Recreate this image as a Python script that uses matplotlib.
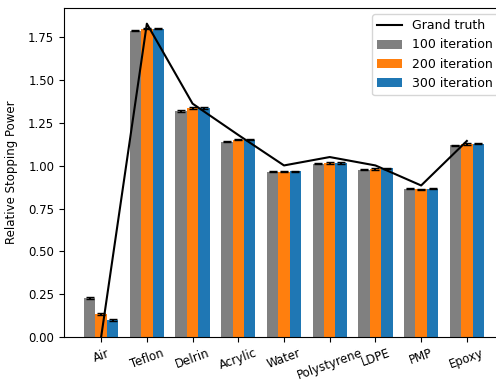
import numpy as np
import matplotlib
matplotlib.use("Agg")
import matplotlib.pyplot as plt

materials = ["Air", "Teflon", "Delrin", "Acrylic", "Water", "Polystyrene", "LDPE", "PMP", "Epoxy"]
grand_truth = [0.0, 1.83, 1.363, 1.18, 1.002, 1.051, 1.002, 0.885, 1.145]
iter_100 = [0.228, 1.790, 1.320, 1.141, 0.965, 1.013, 0.977, 0.866, 1.119]
iter_200 = [0.135, 1.800, 1.337, 1.153, 0.965, 1.016, 0.981, 0.862, 1.127]
iter_300 = [0.100, 1.800, 1.337, 1.153, 0.967, 1.016, 0.985, 0.866, 1.129]
err_100 = [0.004] * len(materials)
err_200 = [0.004] * len(materials)
err_300 = [0.004] * len(materials)

fig = plt.figure(figsize=(4.96, 3.85), dpi=100)
ax = fig.add_axes([64 / 496, 48 / 385, 440 / 496, 329 / 385])

x = np.arange(len(materials))
w = 0.25
line, = ax.plot(x, grand_truth, color="black", label="Grand truth")
b1 = ax.bar(x - w, iter_100, w, yerr=err_100, capsize=3, color="gray", label="100 iteration")
b2 = ax.bar(x, iter_200, w, yerr=err_200, capsize=3, color="#ff7f0e", label="200 iteration")
b3 = ax.bar(x + w, iter_300, w, yerr=err_300, capsize=3, color="#1f77b4", label="300 iteration")

ax.set_xticks(x)
ax.set_xticklabels(materials, rotation=20)
ax.tick_params(labelsize=8.5)
ax.set_ylabel("Relative Stopping Power", fontsize=8.5, labelpad=7)
ax.legend(handles=[line, b1, b2, b3], loc="upper right", fontsize=9)

fig.savefig("out.png", dpi=100)
